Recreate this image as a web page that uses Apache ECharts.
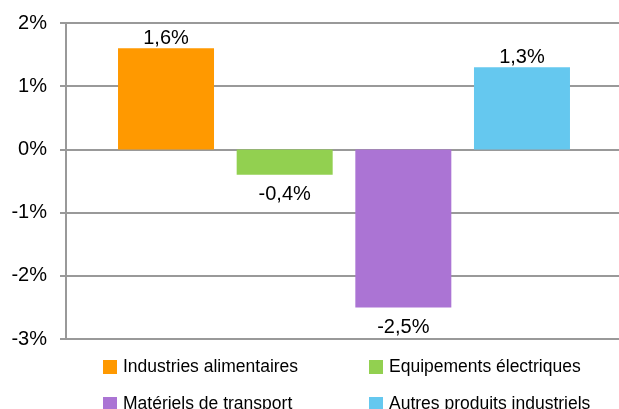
<!DOCTYPE html>
<html>
<head>
<meta charset="utf-8">
<style>
  html, body { margin: 0; padding: 0; background: #fff; overflow: hidden; }
  #chart { width: 622px; height: 409px; }
</style>
<script src="https://cdn.jsdelivr.net/npm/echarts@6/dist/echarts.min.js"></script>
</head>
<body>
<div id="chart"></div>
<script>
// Sectors and their change, in percent
const sectors = ['Industries alimentaires', 'Equipements électriques', 'Matériels de transport', 'Autres produits industriels'];
const changes = [1.6, -0.4, -2.5, 1.3];
const colors = ['#FF9900', '#92D050', '#AB74D4', '#65C8EF'];
const yTicks = { min: -3, max: 2, step: 1 };

const FONT = '"Liberation Sans", Arial, sans-serif';
const fmt = v => String(v).replace('.', ',') + '%';

const series = sectors.map((name, i) => ({
  name: name,
  type: 'bar',
  data: [changes[i]],
  barWidth: 96,
  barGap: '23.6%',
  itemStyle: { color: colors[i] },
  label: {
    show: true,
    position: 'outside',
    distance: changes[i] >= 0 ? 0 : 10,
    formatter: p => fmt(p.value),
    color: '#000',
    fontFamily: FONT,
    fontSize: 20
  }
}));

// Two-column legend placed as four individual legends
const legendSlots = [
  { left: 103, top: 358 },
  { left: 369, top: 358 },
  { left: 103, top: 395 },
  { left: 369, top: 395 }
];
const legends = sectors.map((name, i) => ({
  data: [name],
  left: legendSlots[i].left,
  top: legendSlots[i].top,
  padding: 0,
  icon: 'rect',
  itemWidth: 14,
  itemHeight: 14,
  itemGap: 0,
  textStyle: { fontFamily: FONT, fontSize: 17.5, color: '#000', padding: [0, 0, 0, 1] },
  selectedMode: false
}));

// The plot runs slightly past the visible right edge, so gridlines reach the border
const chart = echarts.init(document.getElementById('chart'), null, { renderer: 'canvas' });
chart.setOption({
  animation: false,
  backgroundColor: '#fff',
  grid: { left: 66, right: 0, top: 23, bottom: 70, containLabel: false },
  legend: legends,
  xAxis: {
    type: 'category',
    data: [''],
    axisLine: { show: false },
    axisTick: { show: false },
    axisLabel: { show: false },
    splitLine: { show: false }
  },
  yAxis: {
    type: 'value',
    min: yTicks.min,
    max: yTicks.max,
    interval: yTicks.step,
    axisLine: { show: true, lineStyle: { color: '#999999', width: 2 } },
    axisTick: { show: true, length: 6, lineStyle: { color: '#999999', width: 2 } },
    axisLabel: {
      formatter: v => v + '%',
      color: '#000',
      fontFamily: FONT,
      fontSize: 20,
      margin: 19
    },
    splitLine: { show: true, lineStyle: { color: '#999999', width: 2 } }
  },
  series: series
});
</script>
</body>
</html>
